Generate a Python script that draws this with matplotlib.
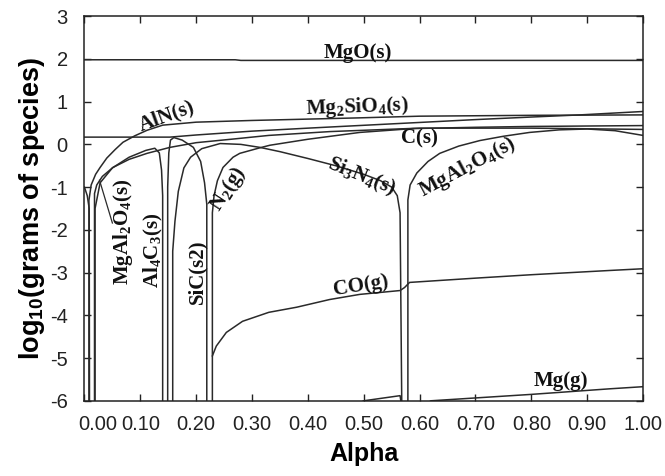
import matplotlib
matplotlib.use("Agg")
import matplotlib.pyplot as plt
from matplotlib.transforms import ScaledTranslation

plt.rcParams["mathtext.fontset"] = "custom"
plt.rcParams["mathtext.rm"] = "Liberation Serif:bold"
plt.rcParams["mathtext.bf"] = "Liberation Serif:bold"
plt.rcParams["mathtext.sf"] = "Liberation Sans:bold"

# ---------------- data ----------------
mgo_x = [0.0, 0.27, 0.28, 1.0]
mgo_y = [1.98, 1.98, 1.965, 1.965]

mg2sio4_x = [0.0, 0.153, 0.2, 0.3, 0.4, 0.49, 0.565, 0.7, 0.8, 0.887, 1.0]
mg2sio4_y = [0.17, 0.17, 0.22, 0.31, 0.38, 0.44, 0.49, 0.58, 0.64, 0.69, 0.77]

aln_x = [0.008, 0.008, 0.012, 0.02, 0.028, 0.04, 0.055, 0.069, 0.09, 0.112, 0.14, 0.2, 0.3, 0.49, 0.6, 0.8, 1.0]
aln_y = [-6.0, -1.31, -0.95, -0.7, -0.54, -0.32, -0.12, 0.05, 0.2, 0.33, 0.45, 0.52, 0.56, 0.62, 0.66, 0.68, 0.69]

c_x = [0.018, 0.018, 0.022, 0.032, 0.051, 0.08, 0.112, 0.153, 0.2, 0.27, 0.33, 0.44, 0.6, 0.8, 1.0]
c_y = [-6.0, -1.15, -0.95, -0.75, -0.54, -0.35, -0.21, -0.07, 0.04, 0.13, 0.21, 0.3, 0.38, 0.38, 0.35]

mgal2o4a_x = [0.0, 0.005, 0.0085, 0.009]
mgal2o4a_y = [-1.0, -1.2, -1.5, -6.0]

al4c3_x = [0.019, 0.019, 0.028, 0.05, 0.08, 0.11, 0.126, 0.134, 0.138, 0.14, 0.14]
al4c3_y = [-6.0, -1.5, -0.9, -0.55, -0.3, -0.14, -0.09, -0.2, -0.6, -1.2, -6.0]

sic_x = [0.149, 0.149, 0.151, 0.154, 0.16, 0.175, 0.195, 0.208, 0.215, 0.219, 0.219]
sic_y = [-6.0, -1.0, -0.2, 0.1, 0.16, 0.1, -0.07, -0.4, -0.9, -1.4, -6.0]

si3n4_x = [0.158, 0.158, 0.162, 0.168, 0.178, 0.19, 0.21, 0.243, 0.28, 0.314, 0.35, 0.4, 0.45, 0.5, 0.53, 0.55, 0.56, 0.565, 0.568]
si3n4_y = [-6.0, -2.5, -1.8, -1.1, -0.55, -0.3, -0.1, 0.02, 0.0, -0.07, -0.17, -0.33, -0.5, -0.7, -0.85, -1.0, -1.2, -1.6, -6.0]

n2_x = [0.229, 0.229, 0.232, 0.238, 0.248, 0.266, 0.278, 0.314, 0.332, 0.4, 0.493, 0.588, 0.7, 0.8, 0.9, 1.0]
n2_y = [-6.0, -1.6, -1.2, -0.85, -0.54, -0.3, -0.21, -0.08, -0.02, 0.12, 0.28, 0.37, 0.4, 0.42, 0.43, 0.44]

mgal2o4b_x = [0.579, 0.579, 0.583, 0.595, 0.615, 0.636, 0.67, 0.708, 0.75, 0.797, 0.85, 0.9, 0.95, 1.0]
mgal2o4b_y = [-6.0, -1.3, -0.95, -0.67, -0.4, -0.21, -0.04, 0.09, 0.19, 0.28, 0.34, 0.36, 0.32, 0.21]

co_x = [0.229, 0.236, 0.254, 0.283, 0.33, 0.38, 0.439, 0.493, 0.565, 0.573, 0.582, 0.7, 0.8, 0.941, 1.0]
co_y = [-4.95, -4.72, -4.40, -4.14, -3.93, -3.81, -3.63, -3.51, -3.42, -3.35, -3.23, -3.13, -3.05, -2.95, -2.91]

mg_x = [0.45, 0.5, 0.565, 0.572, 0.6, 0.62, 0.8, 0.94, 1.0]
mg_y = [-6.3, -6.0, -5.88, -6.5, -6.2, -6.0, -5.85, -5.72, -5.67]

xticks = [0.0, 0.1, 0.2, 0.3, 0.4, 0.5, 0.6, 0.7, 0.8, 0.9, 1.0]
yticks = [-6, -5, -4, -3, -2, -1, 0, 1, 2, 3]

# ---------------- figure ----------------
fig = plt.figure(figsize=(6.65, 4.76), dpi=100)
ax = fig.add_axes([0.127, 0.158, 0.840, 0.808])

lc = "#2a2a2a"
lw = 1.1
series = [
    (mgo_x, mgo_y), (mg2sio4_x, mg2sio4_y), (aln_x, aln_y), (c_x, c_y),
    (mgal2o4a_x, mgal2o4a_y), (al4c3_x, al4c3_y), (sic_x, sic_y),
    (si3n4_x, si3n4_y), (n2_x, n2_y), (mgal2o4b_x, mgal2o4b_y), (co_x, co_y),
    (mg_x, mg_y),
]
for xs, ys in series:
    ax.plot(xs, ys, color=lc, lw=lw, solid_joinstyle="round")

# leader line for the left MgAl2O4 label
ax.plot([0.027, 0.05], [-0.84, -1.84], color=lc, lw=0.9)

ax.set_xlim(0, 1)
ax.set_ylim(-6, 3)
ax.set_xticks(xticks)
ax.set_xticklabels([f"{v:.2f}" for v in xticks])
ax.set_yticks(yticks)
ax.set_yticklabels([str(v) for v in yticks])

for lab in ax.get_xticklabels() + ax.get_yticklabels():
    lab.set_fontfamily("Liberation Sans")
    lab.set_fontsize(14.5)
ax.tick_params(direction="in", top=True, right=True, length=5, width=1, colors="#222222")
ax.tick_params(axis="x", pad=10)
ax.tick_params(axis="y", pad=12)
# nudge the first x label to the right like the reference
first = ax.get_xticklabels()[0]
first.set_transform(first.get_transform() + ScaledTranslation(13 / 100, 0, fig.dpi_scale_trans))

for s in ax.spines.values():
    s.set_linewidth(1.1)
    s.set_color("#222222")

ax.set_xlabel("Alpha", fontfamily="Liberation Sans", fontsize=18, fontweight="bold", labelpad=6)
ax.set_ylabel(r"log$_{\mathsf{10}}$(grams of species)", fontfamily="Liberation Sans",
              fontsize=19.5, fontweight="bold", labelpad=2)

lab = dict(fontfamily="Liberation Serif", fontweight="bold", fontsize=15, color="#111111",
           ha="center", va="center", rotation_mode="anchor")
ax.text(0.49, 2.14, "MgO(s)", **lab)
ax.text(0.488, 0.86, r"Mg$_2$SiO$_4$(s)", rotation=2, **lab)
ax.text(0.148, 0.66, "AlN(s)", rotation=20, **lab)
ax.text(0.599, 0.14, "C(s)", **lab)
ax.text(0.497, -0.75, r"Si$_3$N$_4$(s)", rotation=-22, **lab)
ax.text(0.685, -0.54, r"MgAl$_2$O$_4$(s)", rotation=28, **lab)
ax.text(0.258, -1.04, r"N$_2$(g)", rotation=57, **lab)
ax.text(0.069, -2.05, r"MgAl$_2$O$_4$(s)", rotation=90, **lab)
ax.text(0.124, -2.48, r"Al$_4$C$_3$(s)", rotation=90, **lab)
ax.text(0.203, -2.99, "SiC(s2)", rotation=90, **lab)
ax.text(0.495, -3.32, "CO(g)", rotation=9, **lab)
ax.text(0.853, -5.54, "Mg(g)", **lab)

fig.savefig("out.png", dpi=100)
